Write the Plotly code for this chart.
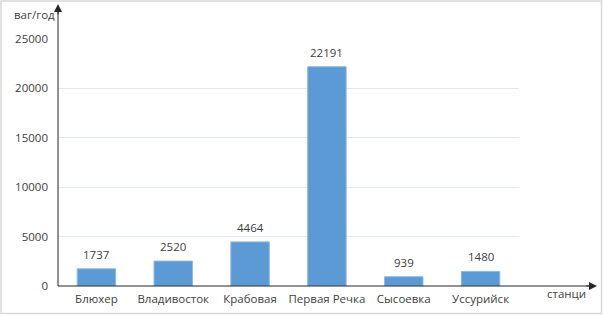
import plotly.graph_objects as go

stations = ["Блюхер", "Владивосток", "Крабовая", "Первая Речка", "Сысоевка", "Уссурийск"]
wagons = [1737, 2520, 4464, 22191, 939, 1480]
y_ticks = [0, 5000, 10000, 15000, 20000, 25000]
y_tick_labels = ["0", "5000", "10000", "15000", "20000", "25000"]
y_title = "ваг/год"
x_title = "станци"

W, H = 603, 315
L, R, T, B = 58, 84, 39, 29
pw, ph = W - L - R, H - T - B

def px(x):
    return (x - L) / pw

def py(y):
    return (H - B - y) / ph

fam = "Open Sans, Noto Sans, sans-serif"
font = dict(family=fam, size=11.5, color="#404040")
axis_col = "#262626"

fig = go.Figure(go.Bar(
    x=stations, y=wagons, width=0.5,
    marker=dict(color="#5B9AD5", line=dict(color="#8AB8E4", width=1)),
    hoverinfo="x+y",
))

annotations = [
    dict(x=s, y=v, xref="x", yref="y", text=str(v), showarrow=False,
         yanchor="bottom", yshift=5, font=font)
    for s, v in zip(stations, wagons)
]
annotations += [
    dict(xref="paper", yref="paper", x=0, y=py(4), ax=0, ay=12,
         axref="pixel", ayref="pixel", showarrow=True, arrowhead=2,
         arrowsize=1.6, arrowwidth=1, arrowcolor=axis_col, text=""),
    dict(xref="paper", yref="paper", x=px(597), y=0, ax=-12, ay=0,
         axref="pixel", ayref="pixel", showarrow=True, arrowhead=2,
         arrowsize=1.6, arrowwidth=1, arrowcolor=axis_col, text=""),
    dict(xref="paper", yref="paper", x=px(57), y=py(15), text=y_title,
         showarrow=False, xanchor="right", yanchor="middle", font=font),
    dict(xref="paper", yref="paper", x=px(566), y=py(293), text=x_title,
         showarrow=False, xanchor="center", yanchor="middle", font=font),
]

fig.update_layout(
    width=W, height=H,
    margin=dict(l=L, r=R, t=T, b=B, autoexpand=False),
    paper_bgcolor="white", plot_bgcolor="white",
    font=font, showlegend=False, bargap=0.5,
    xaxis=dict(showgrid=False, showline=False, ticks="", tickfont=font,
               ticklabelstandoff=4, automargin=False),
    yaxis=dict(range=[0, 25000], tickvals=y_ticks, ticktext=y_tick_labels,
               showgrid=True, gridcolor="#E3E8EF", gridwidth=1, zeroline=False,
               showline=False, ticks="", tickfont=font, ticklabelstandoff=9,
               automargin=False),
    shapes=[
        dict(type="rect", xref="paper", yref="paper",
             x0=px(1), x1=px(601.5), y0=py(313.5), y1=py(1),
             line=dict(color="#D9D9D9", width=1.5), fillcolor="rgba(0,0,0,0)"),
        dict(type="line", xref="paper", yref="paper",
             x0=0, x1=0, y0=0, y1=py(8), line=dict(color=axis_col, width=1)),
        dict(type="line", xref="paper", yref="paper",
             x0=0, x1=px(593), y0=0, y1=0, line=dict(color=axis_col, width=1)),
    ],
    annotations=annotations,
)

fig.write_html("out.html", config={"displayModeBar": False},
               post_script="document.body.style.margin='0';document.body.style.overflow='hidden';")
